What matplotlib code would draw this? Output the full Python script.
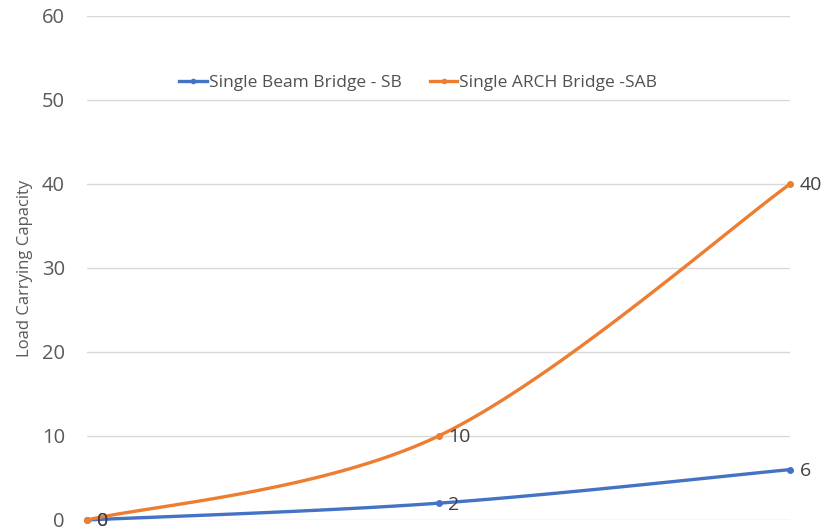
import matplotlib
matplotlib.use("Agg")
import matplotlib.pyplot as plt
import numpy as np

plt.rcParams['font.family'] = ['Open Sans', 'DejaVu Sans']

steps = [0, 1, 2]
beam = [0, 2, 6]
arch = [0, 10, 40]
series_names = ["Single Beam Bridge - SB", "Single ARCH Bridge -SAB"]
colors = ["#4472C4", "#ED7D31"]


def smooth(xs, ys, n=60):
    # cubic bezier through the points, spreadsheet-style smoothing
    xs = np.asarray(xs, float)
    ys = np.asarray(ys, float)
    px = np.concatenate([[xs[0]], xs, [xs[-1]]])
    py = np.concatenate([[ys[0]], ys, [ys[-1]]])
    outx, outy = [], []
    t = np.linspace(0, 1, n)
    for i in range(1, len(px) - 2):
        p0 = np.array([px[i], py[i]])
        p3 = np.array([px[i + 1], py[i + 1]])
        c1 = p0 + (np.array([px[i + 1], py[i + 1]]) - np.array([px[i - 1], py[i - 1]])) / 6
        c2 = p3 - (np.array([px[i + 2], py[i + 2]]) - np.array([px[i], py[i]])) / 6
        b = ((1 - t) ** 3)[:, None] * p0 + (3 * (1 - t) ** 2 * t)[:, None] * c1 \
            + (3 * (1 - t) * t ** 2)[:, None] * c2 + (t ** 3)[:, None] * p3
        outx.extend(b[:, 0])
        outy.extend(b[:, 1])
    return outx, outy


fig = plt.figure(figsize=(8.3, 5.32), dpi=100)
ax = fig.add_axes([0.105, 0.0226, 0.847, 0.9474])

for vals, name, c in zip([beam, arch], series_names, colors):
    sx, sy = smooth(steps, vals)
    ax.plot(sx, sy, color=c, lw=2.4, clip_on=False, solid_capstyle='round')
    ax.plot(steps, vals, 'o', color=c, ms=4, clip_on=False)
    ax.plot([], [], color=c, lw=2.4, marker='o', ms=3, label=name)
    for x, v in zip(steps, vals):
        ax.annotate(str(v), (x, v), xytext=(7, -1), textcoords='offset points',
                    fontsize=14, color='#404040', va='center', ha='left',
                    annotation_clip=False)

ax.set_xlim(0, 2)
ax.set_ylim(0, 60)
ax.set_yticks(range(0, 61, 10))
ax.set_xticks([])
ax.yaxis.grid(True, color='#d9d9d9', lw=1)
ax.set_axisbelow(True)
for s in ax.spines.values():
    s.set_visible(False)
ax.tick_params(axis='y', length=0, pad=16, labelsize=14.5, labelcolor='#595959')
ax.set_ylabel("Load Carrying Capacity", fontsize=12, color='#595959', labelpad=6)

ax.legend(loc='center', bbox_to_anchor=(0.504, 0.844), bbox_transform=fig.transFigure,
          ncol=2, frameon=False, fontsize=12.5, handlelength=1.6, handletextpad=0.1,
          columnspacing=1.6, labelcolor='#505050')

fig.savefig("out.png", dpi=100)
